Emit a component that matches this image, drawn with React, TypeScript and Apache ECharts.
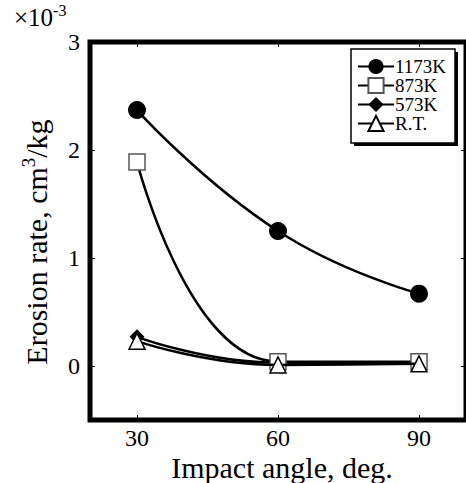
import React, { useEffect, useRef } from "react";
import * as echarts from "echarts";

const angles = [30, 60, 90];
const k1173 = [2.37, 1.25, 0.67];
const k873 = [1.89, 0.04, 0.04];
const k573 = [0.27, 0.03, 0.03];
const rt = [0.23, 0.01, 0.02];
const xTicks = [30, 60, 90];
const yTicks = [0, 1, 2, 3];
const seriesNames = ["1173K", "873K", "573K", "R.T."];

const FONT = "'Liberation Serif', 'Times New Roman', serif";

export default function App() {
  const ref = useRef<HTMLDivElement>(null);
  useEffect(() => {
    if (!ref.current) return;
    const chart = echarts.init(ref.current, null, { renderer: "svg" });
    const pairs = (ys: number[]) => angles.map((a, i) => [a, ys[i]]);
    const lineBase = { color: "#000", width: 2.5 };
    const tick = { show: true, inside: true, length: 5, lineStyle: { color: "#000", width: 1 } };
    chart.setOption({
      animation: false,
      textStyle: { fontFamily: FONT },
      grid: { left: 90, top: 42, right: -3, bottom: 63, containLabel: false, show: true, borderColor: "#000", borderWidth: 5, backgroundColor: "transparent" },
      graphic: [
        {
          type: "text",
          left: 14,
          top: 2,
          z: 1,
          style: {
            text: "×10{sup|-3}",
            fontFamily: FONT,
            fontSize: 25,
            fill: "#000",
            rich: { sup: { fontSize: 16, fontFamily: FONT, verticalAlign: "bottom", padding: [0, 0, 14, 0] } },
          },
        },
        {
          type: "text",
          x: 36,
          y: 242,
          rotation: Math.PI / 2,
          z: 1,
          style: {
            text: "Erosion rate, cm{sup|3}/kg",
            fontFamily: FONT,
            fontSize: 30,
            fill: "#000",
            align: "center",
            verticalAlign: "middle",
            rich: { sup: { fontSize: 19, fontFamily: FONT, verticalAlign: "bottom", padding: [0, 0, 16, 0] } },
          },
        },
        {
          type: "text",
          x: 282,
          y: 467,
          z: 1,
          style: {
            text: "Impact angle, deg.",
            fontFamily: FONT,
            fontSize: 30,
            lineHeight: 28,
            fill: "#000",
            align: "center",
            verticalAlign: "middle",
          },
        },
        {
          type: "rect",
          shape: { x: 354, y: 52, width: 104, height: 94 },
          style: { fill: "#000" },
          z: 1,
        },
        {
          type: "rect",
          shape: { x: 351, y: 49, width: 104, height: 94 },
          style: { fill: "#fff", stroke: "#000", lineWidth: 1.5 },
          z: 2,
        },
      ],
      legend: {
        orient: "vertical",
        left: 351,
        top: 49,
        z: 10,
        padding: [8, 5, 8, 6],
        itemWidth: 36,
        itemHeight: 19,
        itemGap: 0,
        textStyle: { fontFamily: FONT, fontSize: 19, lineHeight: 19, color: "#000", padding: [0, 0, 0, -4] },
        data: seriesNames,
      },
      xAxis: [
        {
          type: "value",
          min: 20,
          max: 100,
          interval: 10,
          axisLine: { show: false, onZero: false },
          splitLine: { show: false },
          axisTick: { ...tick, customValues: xTicks },
          axisLabel: { customValues: xTicks, fontFamily: FONT, fontSize: 24, lineHeight: 22, color: "#000", margin: 7 },
        },
        {
          type: "value",
          position: "top",
          min: 20,
          max: 100,
          interval: 10,
          axisLine: { show: false, onZero: false },
          splitLine: { show: false },
          axisTick: { ...tick, customValues: xTicks },
          axisLabel: { show: false },
        },
      ],
      yAxis: [
        {
          type: "value",
          min: -0.5,
          max: 3,
          interval: 0.5,
          axisLine: { show: false, onZero: false },
          splitLine: { show: false },
          axisTick: { ...tick, customValues: yTicks },
          axisLabel: { customValues: yTicks, fontFamily: FONT, fontSize: 24, color: "#000", margin: 10 },
        },
        {
          type: "value",
          position: "right",
          min: -0.5,
          max: 3,
          interval: 0.5,
          axisLine: { show: false, onZero: false },
          splitLine: { show: false },
          axisTick: { ...tick, customValues: yTicks },
          axisLabel: { show: false },
        },
      ],
      series: [
        {
          name: seriesNames[0],
          type: "line",
          smooth: 0.5,
          data: pairs(k1173),
          symbol: "circle",
          symbolSize: 18,
          lineStyle: lineBase,
          itemStyle: { color: "#000" },
          z: 4,
        },
        {
          name: seriesNames[1],
          type: "line",
          smooth: 0.5,
          data: pairs(k873),
          symbol: "rect",
          symbolSize: 16,
          lineStyle: lineBase,
          itemStyle: { color: "#fff", borderColor: "#555", borderWidth: 1.5 },
          z: 3,
        },
        {
          name: seriesNames[2],
          type: "line",
          smooth: 0.5,
          data: pairs(k573),
          symbol: "diamond",
          symbolSize: 15,
          lineStyle: lineBase,
          itemStyle: { color: "#000" },
          z: 2,
        },
        {
          name: seriesNames[3],
          type: "line",
          smooth: 0.5,
          data: pairs(rt),
          symbol: "triangle",
          symbolSize: 16,
          lineStyle: lineBase,
          itemStyle: { color: "#fff", borderColor: "#000", borderWidth: 1.5 },
          z: 5,
        },
      ],
    });
    return () => chart.dispose();
  }, []);
  return <div ref={ref} style={{ width: 466, height: 483, position: "absolute", left: 0, top: 0 }} />;
}
